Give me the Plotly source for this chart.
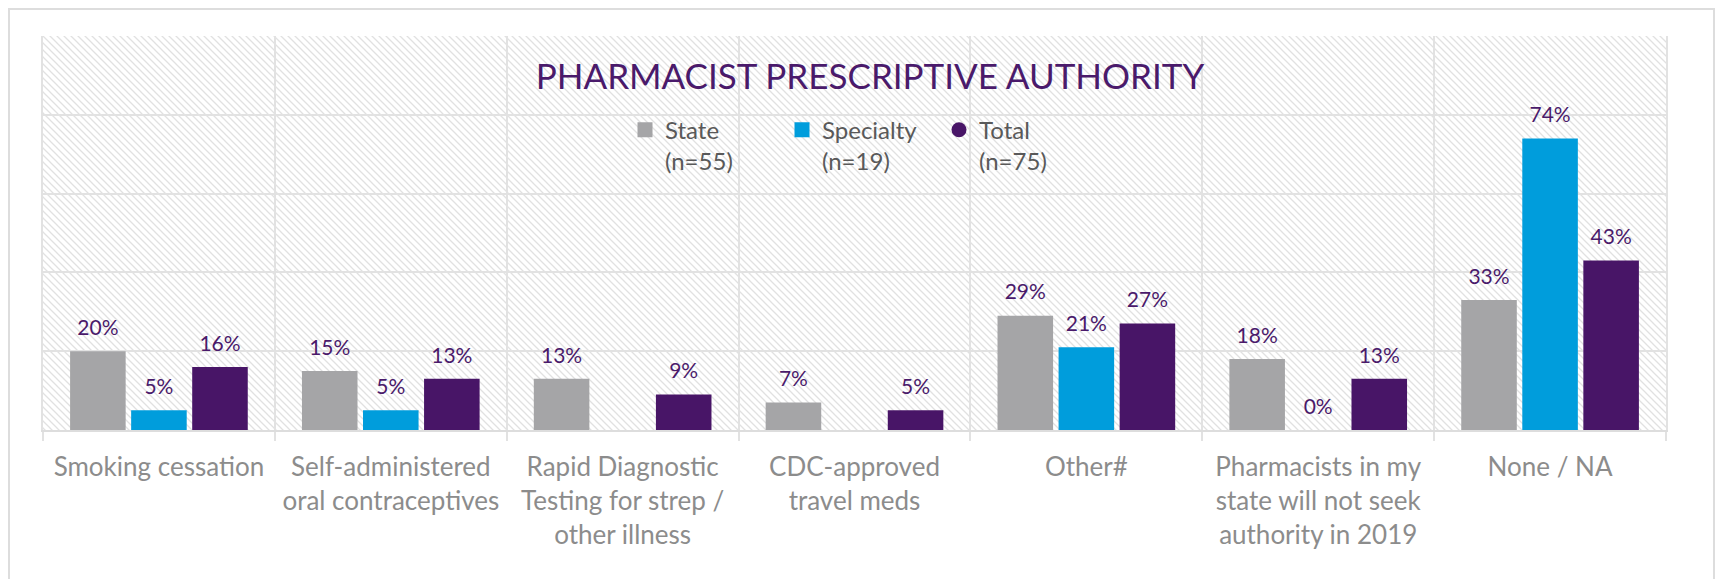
import base64
import plotly.graph_objects as go

categories = [
    "Smoking cessation",
    "Self-administered<br>oral contraceptives",
    "Rapid Diagnostic<br>Testing for strep /<br>other illness",
    "CDC-approved<br>travel meds",
    "Other#",
    "Pharmacists in my<br>state will not seek<br>authority in 2019",
    "None / NA",
]
state_vals = [20, 15, 13, 7, 29, 18, 33]
specialty_vals = [5, 5, None, None, 21, 0, 74]
total_vals = [16, 13, 9, 5, 27, 13, 43]

series_names = ["State<br>(n=55)", "Specialty<br>(n=19)", "Total<br>(n=75)"]
series_colors = ["#A5A5A7", "#009DDC", "#481567"]
legend_symbols = ["square", "square", "circle"]
label_color = "#4A1A6B"
title_text = "PHARMACIST PRESCRIPTIVE AUTHORITY"

W, H = 1723, 579
ML, MR, MT, MB = 35, 65, 28, 157
PW, PH = W - ML - MR, H - MT - MB

FONT = "Lato"

# hatch background for plot area
svg = (
    f'<svg xmlns="http://www.w3.org/2000/svg" width="{PW}" height="{PH}">'
    '<defs><pattern id="h" patternUnits="userSpaceOnUse" width="7" height="7">'
    '<path d="M-1,6 l2,2 M0,0 l7,7 M6,-1 l2,2" stroke="#e1e1e1" stroke-width="1.3"/>'
    '</pattern></defs>'
    f'<rect width="{PW}" height="{PH}" fill="#ffffff"/>'
    f'<rect width="{PW}" height="{PH}" fill="url(#h)"/></svg>'
)
svg_uri = "data:image/svg+xml;base64," + base64.b64encode(svg.encode()).decode()

fig = go.Figure()
all_vals = [state_vals, specialty_vals, total_vals]
groups = ["state", "specialty", "total"]

for name, vals, color, grp in zip(series_names, all_vals, series_colors, groups):
    fig.add_trace(go.Bar(
        x=categories, y=vals, name=name,
        marker=dict(color=color, line=dict(width=0)),
        offsetgroup=grp, alignmentgroup="a",
        showlegend=False, hoverinfo="skip",
    ))

for vals, grp in zip(all_vals, groups):
    fig.add_trace(go.Scatter(
        x=categories, y=vals,
        mode="markers+text",
        text=[f"{v}%" if v is not None else "" for v in vals],
        textposition="top center",
        textfont=dict(family=FONT, size=21, color=label_color),
        marker=dict(size=16, color="rgba(0,0,0,0)"),
        offsetgroup=grp, alignmentgroup="s",
        showlegend=False, hoverinfo="skip", cliponaxis=False,
    ))

# legend-only entries (square / square / circle symbols)
for name, color, sym, grp in zip(series_names, series_colors, legend_symbols, groups):
    fig.add_trace(go.Scatter(
        x=[None], y=[None], mode="markers", name=name,
        marker=dict(symbol=sym, size=15, color=color),
        offsetgroup=grp, alignmentgroup="s", hoverinfo="skip",
    ))

n = len(categories)
bounds = [i - 0.5 for i in range(n + 1)]

fig.update_layout(
    width=W, height=H,
    margin=dict(l=ML, r=MR, t=MT, b=MB),
    paper_bgcolor="white", plot_bgcolor="rgba(0,0,0,0)",
    barmode="group", bargap=0.21, bargroupgap=0.09,
    scattermode="group", scattergap=0.21,
    title=dict(
        text=title_text, x=862 / W, xanchor="center",
        y=1 - 69 / H, yanchor="middle",
        font=dict(family=FONT, size=35, color=label_color),
    ),
    legend=dict(
        orientation="h", x=0.3586, y=0.818, xanchor="left", yanchor="top",
        valign="top", entrywidth=112, entrywidthmode="pixels",
        bgcolor="rgba(0,0,0,0)", font=dict(family=FONT, size=24, color="#595959"),
        traceorder="normal",
    ),
    xaxis=dict(
        range=[-0.5, n - 0.5], tickmode="array", tickvals=list(range(n)), ticktext=categories,
        showgrid=False, ticks="outside", ticklen=13, tickcolor="rgba(0,0,0,0)",
        tickfont=dict(family=FONT, size=26, color="#8C8C8C"),
        showline=True, linecolor="#DDDDDD", linewidth=2,
        minor=dict(tickmode="array", tickvals=bounds, showgrid=True, gridcolor="#E2E2E2",
                   gridwidth=2, ticks="outside", ticklen=9, tickcolor="#E2E2E2", tickwidth=2),
        zeroline=False, fixedrange=True,
    ),
    yaxis=dict(
        range=[0, 100], tickmode="linear", tick0=0, dtick=20, showticklabels=False,
        showgrid=True, gridcolor="#E2E2E2", gridwidth=2, zeroline=False,
        showline=True, mirror=True, linecolor="#E2E2E2", linewidth=2, fixedrange=True,
    ),
    images=[dict(source=svg_uri, xref="paper", yref="paper", x=0, y=1, sizex=1, sizey=1,
                 sizing="stretch", layer="below", xanchor="left", yanchor="top")],
    shapes=[dict(type="rect", xref="paper", yref="paper",
                 x0=(1 - ML) / PW, x1=(1706 - ML) / PW,
                 y0=(MT + PH - 640) / PH, y1=(MT + PH - 1) / PH,
                 line=dict(color="#DDDDDD", width=2), fillcolor="rgba(0,0,0,0)", layer="below")],
)

fig.write_html("out.html")
